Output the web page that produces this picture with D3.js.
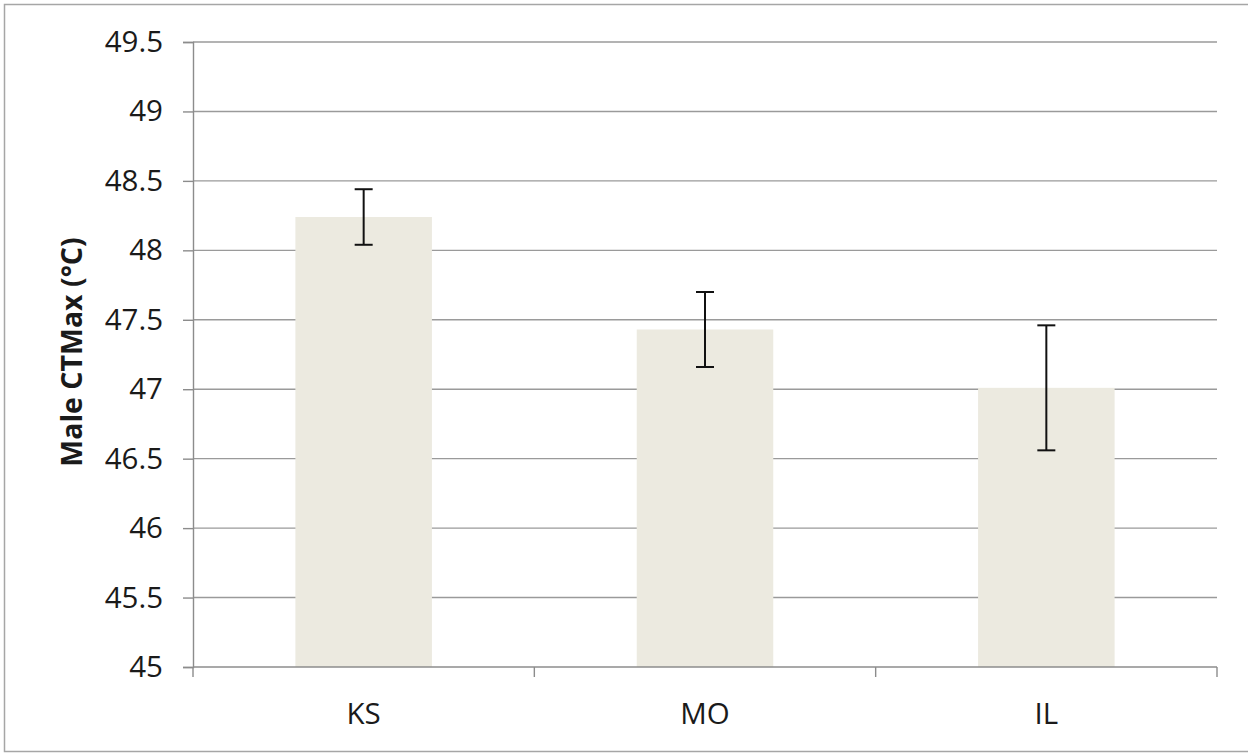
<!DOCTYPE html>
<html>
<head>
<meta charset="utf-8">
<script src="https://cdn.jsdelivr.net/npm/d3@7"></script>
<style>
html,body{margin:0;padding:0;background:#fff;}
svg{display:block;}
text{font-family:"Open Sans",sans-serif;fill:#1a1a1a;}
</style>
</head>
<body>
<svg id="chart" width="1248" height="754"></svg>
<script>
const categories = ["KS", "MO", "IL"];
const values = [48.24, 47.43, 47.01];
const errors = [0.20, 0.27, 0.45];
const yTicks = [45, 45.5, 46, 46.5, 47, 47.5, 48, 48.5, 49, 49.5];
const yTitle = "Male CTMax (°C)";

const svg = d3.select("#chart");
const m = {left: 193, right: 1217, top: 42, bottom: 667};

svg.append("rect").attr("x", 4.5).attr("y", 4.5).attr("width", 1250).attr("height", 747)
  .attr("fill", "none").attr("stroke", "#a6a6a6").attr("stroke-width", 1.5);

const x = d3.scaleBand().domain(categories).range([m.left, m.right]).paddingInner(0.6).paddingOuter(0.3);
const xb = d3.scaleBand().domain(categories).range([m.left, m.right]);
const y = d3.scaleLinear().domain([45, 49.5]).range([m.bottom, m.top]);

// gridlines
svg.append("g").selectAll("line").data(yTicks.filter(t => t > 45)).join("line")
  .attr("x1", m.left).attr("x2", m.right)
  .attr("y1", d => y(d)).attr("y2", d => y(d))
  .attr("stroke", "#9a9a9a").attr("stroke-width", 1.4);

// y axis
const yAxis = d3.axisLeft(y).tickValues(yTicks).tickSize(10).tickPadding(20).tickFormat(d => String(d));
const gy = svg.append("g").attr("transform", `translate(${m.left},0)`).call(yAxis);
gy.select(".domain").attr("stroke", "#8c8c8c").attr("stroke-width", 1.4);
gy.selectAll(".tick line").attr("stroke", "#8c8c8c").attr("stroke-width", 1.4);
gy.selectAll(".tick text").attr("font-size", 29.5).attr("font-family", "Open Sans").attr("fill", "#1a1a1a");

// bars
svg.append("g").selectAll("rect").data(categories).join("rect")
  .attr("x", d => x(d)).attr("width", x.bandwidth())
  .attr("y", (d, i) => y(values[i])).attr("height", (d, i) => y(45) - y(values[i]))
  .attr("fill", "#ECEAE0");

// x axis
const gx = svg.append("g").attr("transform", `translate(0,${m.bottom})`);
gx.append("line").attr("x1", m.left).attr("x2", m.right).attr("stroke", "#8c8c8c").attr("stroke-width", 1.4);
const bounds = categories.map(c => xb(c)).concat([m.right]);
gx.selectAll("line.tk").data(bounds).join("line").attr("class", "tk")
  .attr("x1", d => d).attr("x2", d => d).attr("y1", 0).attr("y2", 10)
  .attr("stroke", "#8c8c8c").attr("stroke-width", 1.4);
gx.selectAll("text").data(categories).join("text")
  .attr("x", d => xb(d) + xb.bandwidth() / 2).attr("y", 57)
  .attr("text-anchor", "middle").attr("font-size", 29.5).text(d => d);

// error bars
const eg = svg.append("g").attr("stroke", "#111").attr("stroke-width", 2);
categories.forEach((c, i) => {
  const cx = x(c) + x.bandwidth() / 2;
  const hi = y(values[i] + errors[i]), lo = y(values[i] - errors[i]);
  eg.append("line").attr("x1", cx).attr("x2", cx).attr("y1", hi).attr("y2", lo);
  eg.append("line").attr("x1", cx - 9).attr("x2", cx + 9).attr("y1", hi).attr("y2", hi);
  eg.append("line").attr("x1", cx - 9).attr("x2", cx + 9).attr("y1", lo).attr("y2", lo);
});

// y title
svg.append("text").attr("transform", "translate(82,352) rotate(-90)")
  .attr("text-anchor", "middle").attr("font-size", 28.5).attr("font-weight", "bold")
  .attr("fill", "#111").text(yTitle);
</script>
</body>
</html>
